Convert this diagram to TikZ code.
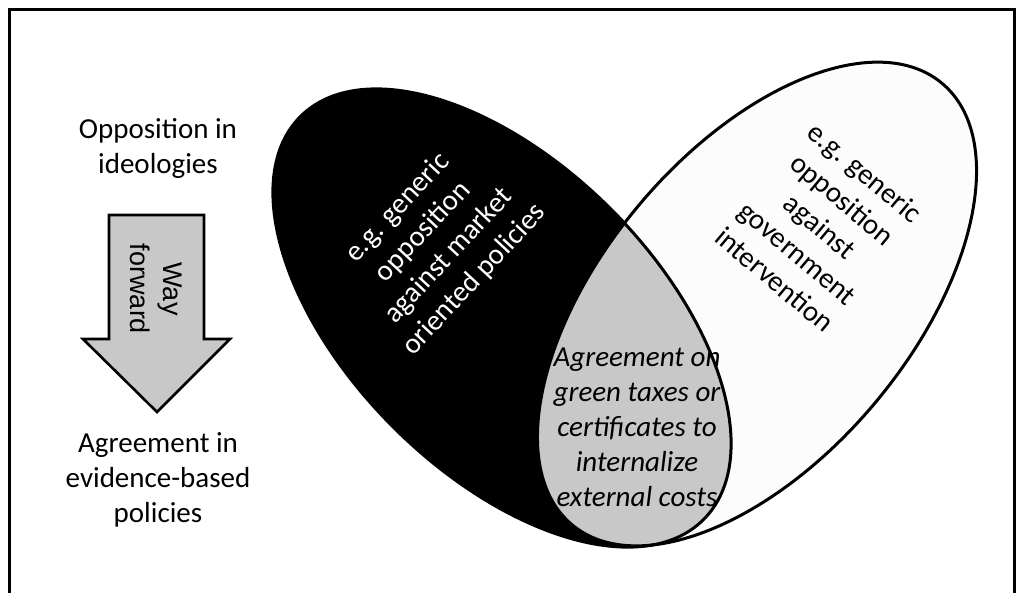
\documentclass[tikz,border=0pt]{standalone}
\usepackage{fontspec}
\setmainfont{Carlito}
\newfontfamily\arrowfont{Liberation Sans}
\definecolor{midgray}{RGB}{200,200,200}
\definecolor{offwhite}{RGB}{252,252,252}
\tikzstyle{every node}=[align=center,inner sep=0pt,font=\fontsize{29}{35}\selectfont]
\tikzstyle{frame}=[line width=3pt]
\tikzstyle{oval}=[draw=black,line width=3pt]
\tikzstyle{darktext}=[text=white]
\tikzstyle{arrowbox}=[draw=black,fill=midgray,line width=2.6pt,line join=miter]
\tikzstyle{overlap}=[font=\fontsize{29}{35}\selectfont\itshape]

\begin{document}
\begin{tikzpicture}[x=1pt,y=-1pt]
    \useasboundingbox (0,0) rectangle (1024,592);
    \draw[frame] (9,600) -- (9,9) -- (1014,9) -- (1014,600);
    \coordinate (bc) at (502,318);
    \coordinate (wc) at (757,304);
    % the two ovals and their overlap
    \fill[black,rotate around={-45:(bc)}] (bc) ellipse (285 and 154);
    \fill[offwhite,rotate around={50:(wc)}] (wc) ellipse (288 and 154);
    \begin{scope}
        \clip[rotate around={-45:(bc)}] (bc) ellipse (285 and 154);
        \fill[midgray,rotate around={50:(wc)}] (wc) ellipse (288 and 154);
    \end{scope}
    \draw[oval,rotate around={-45:(bc)}] (bc) ellipse (285 and 154);
    \draw[oval,rotate around={50:(wc)}] (wc) ellipse (288 and 154);
    \node[darktext,rotate=47] (market) at (436,244) {e.g. generic\\opposition\\against market\\oriented policies};
    \node[rotate=-40] (govt) at (820,226) {e.g. generic\\opposition\\against\\government\\intervention};
    \node[overlap] (agree) at (637,427) {Agreement on\\green taxes or\\certificates to\\internalize\\external costs};
    % left column
    \node (ideology) at (158,148) {Opposition in\\ideologies};
    \draw[arrowbox] (109,215) -- (204,215) -- (204,339) -- (230,339) -- (157,412) -- (83,339) -- (109,339) -- cycle;
    \node[rotate=-90,font=\fontsize{27}{33}\selectfont\arrowfont] (way) at (156,289) {Way\\forward};
    \node (evidence) at (158,480) {Agreement in\\evidence-based\\policies};
\end{tikzpicture}
\end{document}
